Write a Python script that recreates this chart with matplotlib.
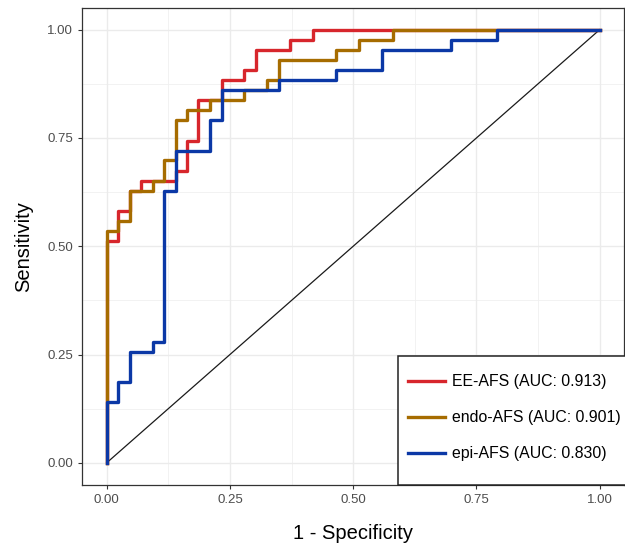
"""ROC curves for the three AFS scores (EE, endo, epi)."""

import matplotlib
matplotlib.use("Agg")
import matplotlib.pyplot as plt
from matplotlib.patches import Rectangle
from matplotlib.ticker import MultipleLocator

# step corners: tpr jumps to tpr[i] at fpr[i]
ee_fpr = [0.0, 0.0, 0.023, 0.047, 0.070, 0.140, 0.163, 0.186, 0.233, 0.279, 0.302, 0.372, 0.419, 1.0]
ee_tpr = [0.0, 0.512, 0.581, 0.628, 0.651, 0.674, 0.744, 0.837, 0.884, 0.907, 0.953, 0.977, 1.0, 1.0]

endo_fpr = [0.0, 0.0, 0.023, 0.047, 0.093, 0.116, 0.140, 0.163, 0.209, 0.279, 0.326, 0.349, 0.465, 0.512, 0.581, 1.0]
endo_tpr = [0.0, 0.535, 0.558, 0.628, 0.651, 0.698, 0.791, 0.814, 0.837, 0.860, 0.884, 0.930, 0.953, 0.977, 1.0, 1.0]

epi_fpr = [0.0, 0.0, 0.023, 0.047, 0.093, 0.116, 0.140, 0.209, 0.233, 0.349, 0.465, 0.558, 0.698, 0.791, 1.0]
epi_tpr = [0.0, 0.140, 0.186, 0.256, 0.279, 0.628, 0.721, 0.791, 0.860, 0.884, 0.907, 0.953, 0.977, 1.0, 1.0]

labels = ["EE-AFS (AUC: 0.913)", "endo-AFS (AUC: 0.901)", "epi-AFS (AUC: 0.830)"]
colors = ["#d7262c", "#a66c00", "#0b38a6"]

plt.rcParams["font.family"] = ["Liberation Sans", "DejaVu Sans"]

fig = plt.figure(figsize=(6.25, 5.43), dpi=100)
ax = fig.add_axes([0.1312, 0.1077, 0.8678, 0.8776])

# ggplot-like theme_bw panel
for v in [0.125, 0.375, 0.625, 0.875]:
    ax.axvline(v, color="#f0f0f0", lw=0.6, zorder=0)
    ax.axhline(v, color="#f0f0f0", lw=0.6, zorder=0)
ax.grid(True, color="#ebebeb", lw=1.0, zorder=0)
ax.set_axisbelow(True)

ax.plot([0, 1], [0, 1], color="#1a1a1a", lw=0.9, zorder=2)

curves = [(ee_fpr, ee_tpr), (endo_fpr, endo_tpr), (epi_fpr, epi_tpr)]
for (fpr, tpr), lab, col in zip(curves, labels, colors):
    ax.step(fpr, tpr, where="post", color=col, lw=2.4, label=lab, zorder=3)

ax.set_xlim(-0.05, 1.05)
ax.set_ylim(-0.05, 1.05)
ax.xaxis.set_major_locator(MultipleLocator(0.25))
ax.yaxis.set_major_locator(MultipleLocator(0.25))
ax.xaxis.set_major_formatter(lambda v, p: f"{v:.2f}")
ax.yaxis.set_major_formatter(lambda v, p: f"{v:.2f}")
ax.tick_params(colors="#333333", labelcolor="#4d4d4d", labelsize=9.5, length=3, width=0.8)

for s in ax.spines.values():
    s.set_color("#333333")
    s.set_linewidth(0.9)

ax.set_xlabel("1 - Specificity", fontsize=14.5, labelpad=13)
ax.set_ylabel("Sensitivity", fontsize=14.5, labelpad=10)

# legend box sits in the bottom-right corner of the panel
ax.add_patch(Rectangle((0.582, 0.0), 0.43, 0.27, transform=ax.transAxes,
                       facecolor="white", edgecolor="#222222", lw=1.1,
                       zorder=5, clip_on=False))
leg = ax.legend(
    loc="upper left",
    bbox_to_anchor=(0.601, 0.231),
    fontsize=11.4,
    frameon=False,
    borderpad=0.0,
    labelspacing=1.32,
    handlelength=2.35,
    handletextpad=0.42,
    borderaxespad=0.0,
)
leg.set_zorder(6)

fig.savefig("out.png", dpi=100)
